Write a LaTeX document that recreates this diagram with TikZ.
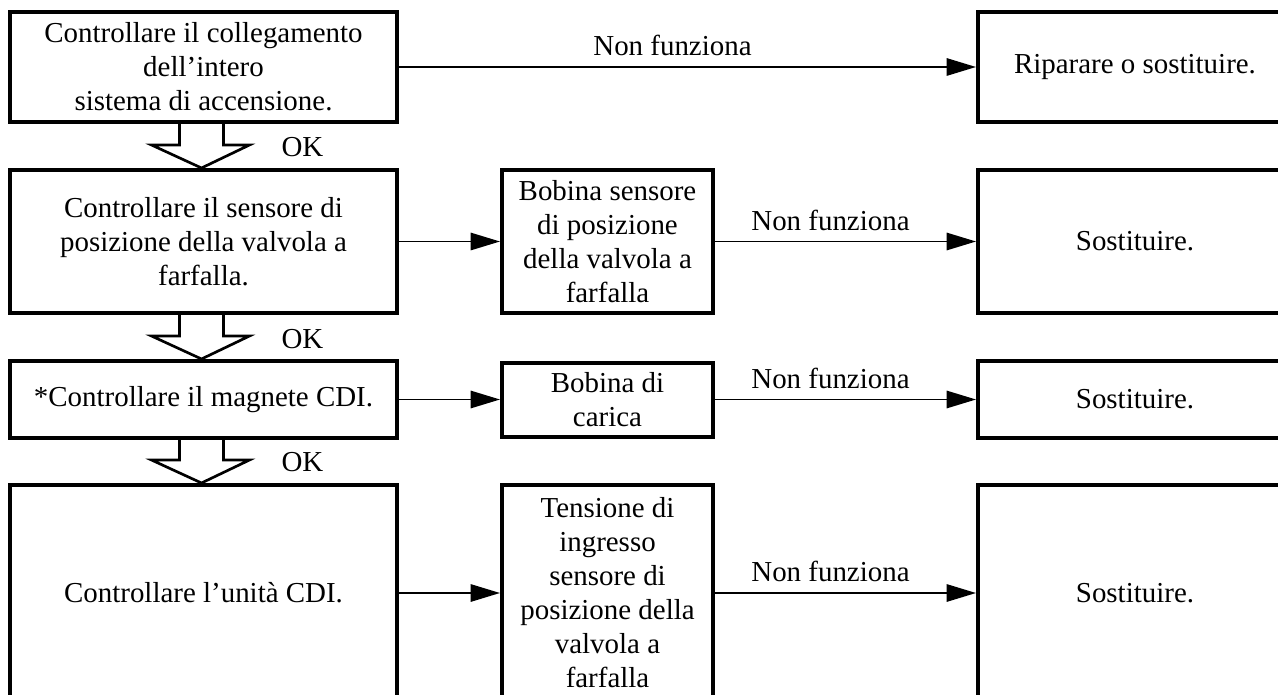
\documentclass[tikz,border=0pt]{standalone}
\usepackage{fontspec}
\setmainfont{Liberation Serif}
\usetikzlibrary{arrows.meta,calc}
\begin{document}
\begin{tikzpicture}[x=0.75pt,y=-0.75pt,
  txt/.style={font=\fontsize{21.7}{25.5}\selectfont},
  box/.style={txt,draw,line width=3pt,inner sep=0pt,align=center},
  conn/.style={line width=1.4pt,-{Triangle[length=22pt,width=13pt]}},
  hollow/.style={line width=2pt,line join=miter}]
\useasboundingbox (0,0) rectangle (1278,695);
% row 1
\node[box,minimum width={387*0.75pt},minimum height={110*0.75pt}] (b1) at (203.5,67) {Controllare il collegamento\\dell’intero\\sistema di accensione.};
\node[box,minimum width={314*0.75pt},minimum height={110*0.75pt}] (r1) at (1135,67) {Riparare o sostituire.};
% row 2
\node[box,minimum width={387*0.75pt},minimum height={143*0.75pt}] (b2) at (203.5,241.5) {Controllare il sensore di\\posizione della valvola a\\farfalla.};
\node[box,minimum width={211*0.75pt},minimum height={143*0.75pt}] (m2) at (607.5,241.5) {Bobina sensore\\di posizione\\della valvola a\\farfalla};
\node[box,minimum width={314*0.75pt},minimum height={143*0.75pt}] (r2) at (1135,241.5) {Sostituire.};
% row 3
\node[box,minimum width={387*0.75pt},minimum height={77*0.75pt}] (b3) at (203.5,399.5) {*Controllare il magnete CDI.};
\node[box,minimum width={211*0.75pt},minimum height={74*0.75pt}] (m3) at (607.5,400) {Bobina di\\carica};
\node[box,minimum width={314*0.75pt},minimum height={77*0.75pt}] (r3) at (1135,399.5) {Sostituire.};
% row 4
\node[box,minimum width={387*0.75pt},minimum height={216*0.75pt}] (b4) at (203.5,593) {Controllare l’unità CDI.};
\node[box,minimum width={211*0.75pt},minimum height={216*0.75pt}] (m4) at (607.5,593) {Tensione di\\ingresso\\sensore di\\posizione della\\valvola a\\farfalla};
\node[box,minimum width={314*0.75pt},minimum height={216*0.75pt}] (r4) at (1135,593) {Sostituire.};
% connectors
\draw[conn] (b1.east) -- (r1.west);
\node[txt] (l1) at ($(b1.east)!0.5!(r1.west)+(-15,-22)$) {Non funziona};
\draw[conn] (b2.east) -- (m2.west);
\draw[conn] (m2.east) -- (r2.west);
\node[txt] (l2) at ($(m2.east)!0.5!(r2.west)+(-15,-21)$) {Non funziona};
\draw[conn] (b3.east) -- (m3.west |- b3.east);
\draw[conn] (m3.east |- r3.west) -- (r3.west);
\node[txt] (l3) at ($(m3.east |- r3.west)!0.5!(r3.west)+(-15,-21)$) {Non funziona};
\draw[conn] (b4.east) -- (m4.west);
\draw[conn] (m4.east) -- (r4.west);
\node[txt] (l4) at ($(m4.east)!0.5!(r4.west)+(-15,-22)$) {Non funziona};
% hollow OK arrows
\draw[hollow] ($(b1.south)+(-24,0)$) -- ++(0,21) -- ++(-28,0) -- ($(b2.north)+(-2,0)$) -- ($(b1.south)+(46,21)$) -- ++(-26,0) -- ++(0,-21);
\node[txt] (ok1) at ($(b1.south)+(99,23)$) {OK};
\draw[hollow] ($(b2.south)+(-24,0)$) -- ++(0,21) -- ++(-28,0) -- ($(b3.north)+(-2,0)$) -- ($(b2.south)+(46,21)$) -- ++(-26,0) -- ++(0,-21);
\node[txt] (ok2) at ($(b2.south)+(99,24)$) {OK};
\draw[hollow] ($(b3.south)+(-24,0)$) -- ++(0,20) -- ++(-28,0) -- ($(b4.north)+(-2,0)$) -- ($(b3.south)+(46,20)$) -- ++(-26,0) -- ++(0,-20);
\node[txt] (ok3) at ($(b3.south)+(99,22)$) {OK};
\end{tikzpicture}
\end{document}
